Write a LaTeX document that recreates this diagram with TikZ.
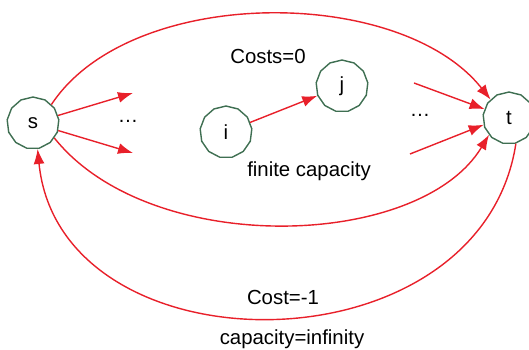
\documentclass[tikz,border=0pt]{standalone}
\usepackage{fontspec}
\setmainfont{Liberation Sans}
\usepackage{xcolor}
\usetikzlibrary{arrows.meta,positioning,shapes.geometric}
\definecolor{edgered}{HTML}{E8202A}
\definecolor{nodegreen}{HTML}{3F6F52}

\begin{document}
\begin{tikzpicture}[
  x=0.02cm, y=-0.02cm,
  font=\fontsize{11.6}{14}\selectfont,
  vertex/.style={draw=nodegreen, regular polygon, regular polygon sides=13, minimum size=1.04cm, inner sep=0pt, line width=0.8pt},
  label/.style={inner sep=1pt},
  arrow/.style={-{Latex[length=3mm, width=2.2mm]}, draw=edgered, line width=0.8pt}
]
\useasboundingbox (0,0) rectangle (529,350);

\node[vertex] (s) at (33,123) {s};
\node[vertex] (t) at (509,118) {t};
\node[vertex] (i) at (226,132) {i};
\node[vertex] (j) at (342,86) {j};

\node[label] (dotsl) at (128,121) {\dots};
\node[label] (dotsr) at (420,115) {\dots};
\node[label] (costs) at (268,56) {Costs=0};
\node[label] (finite) at (309,171) {finite capacity};
\node[label] (costneg) at (283,297) {Cost=-1};
\node[label] (capinf) at (292,339) {capacity=infinity};

\coordinate (sa) at (133,93);
\coordinate (sb) at (133,153);
\coordinate (ta) at (414,83);
\coordinate (tb) at (410,154);

\draw[arrow] (s.45) .. controls (130,-15) and (400,-15) .. (t.135);
\draw[arrow] (s) -- (sa);
\draw[arrow] (s) -- (sb);
\draw[arrow] (s.-35) .. controls (150,258) and (420,250) .. (t.-140);
\draw[arrow] (ta) -- (t.160);
\draw[arrow] (tb) -- (t.-165);
\draw[arrow] (i) -- (j);
\draw[arrow] (t.-75) .. controls (480,375) and (60,375) .. (s.-80);
\end{tikzpicture}
\end{document}
